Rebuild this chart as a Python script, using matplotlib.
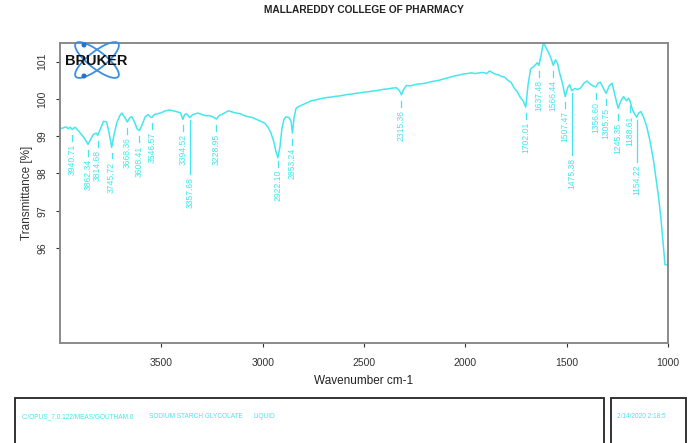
import matplotlib
matplotlib.use('Agg')
import matplotlib.pyplot as plt
from matplotlib.patches import Ellipse, Rectangle, Circle
import numpy as np

plt.rcParams['font.family'] = ['Liberation Sans', 'DejaVu Sans']

CYAN = '#46e6ee'

# spectrum (wavenumber cm-1, transmittance %)
wavenumber = [
    4000, 3985, 3970, 3960, 3950, 3940, 3925, 3910, 3895, 3880, 3862, 3850,
    3835, 3820, 3814, 3800, 3785, 3770, 3760, 3745, 3735, 3720, 3705, 3695,
    3680, 3668, 3655, 3645, 3630, 3620, 3608, 3595, 3580, 3565, 3555, 3546,
    3535, 3520, 3500, 3480, 3460, 3440, 3420, 3405, 3394, 3385, 3375, 3360,
    3345, 3320, 3300, 3280, 3260, 3240, 3228, 3215, 3195, 3170, 3150, 3130,
    3110, 3090, 3070, 3050, 3030, 3010, 2990, 2975, 2960, 2945, 2935, 2925,
    2915, 2905, 2895, 2885, 2870, 2860, 2853, 2845, 2835, 2820, 2800, 2780,
    2760, 2740, 2720, 2700, 2680, 2660, 2640, 2620, 2600, 2580, 2560, 2540,
    2520, 2500, 2480, 2460, 2440, 2420, 2400, 2380, 2360, 2340, 2325, 2315,
    2305, 2290, 2270, 2250, 2230, 2210, 2190, 2170, 2150, 2130, 2110, 2090,
    2070, 2050, 2030, 2010, 1990, 1970, 1950, 1930, 1910, 1895, 1880, 1865,
    1850, 1835, 1820, 1805, 1790, 1775, 1760, 1745, 1730, 1715, 1702, 1690,
    1678, 1660, 1645, 1637, 1625, 1615, 1600, 1590, 1578, 1566, 1555, 1545,
    1535, 1520, 1507, 1495, 1485, 1475, 1460, 1445, 1430, 1415, 1400, 1385,
    1370, 1356, 1345, 1334, 1320, 1305, 1290, 1276, 1262, 1246, 1232, 1219,
    1205, 1195, 1188, 1175, 1165, 1155, 1145, 1133, 1120, 1105, 1090, 1072,
    1060, 1047, 1035, 1025, 1015, 1000,
]
transmittance = [
    99.20, 99.22, 99.25, 99.20, 99.24, 99.18, 99.24, 99.15, 99.05, 98.95, 98.78, 98.90,
    99.05, 99.08, 99.02, 99.20, 99.40, 99.38, 99.15, 98.70, 99.00, 99.35, 99.55, 99.62,
    99.50, 99.38, 99.50, 99.52, 99.35, 99.20, 99.15, 99.30, 99.52, 99.58, 99.52, 99.50,
    99.58, 99.60, 99.63, 99.68, 99.70, 99.68, 99.65, 99.62, 99.45, 99.58, 99.60, 99.50,
    99.58, 99.62, 99.58, 99.55, 99.55, 99.50, 99.46, 99.55, 99.60, 99.68, 99.65, 99.62,
    99.60, 99.55, 99.52, 99.50, 99.45, 99.40, 99.35, 99.25, 99.10, 98.85, 98.60, 98.42,
    98.70, 99.20, 99.45, 99.52, 99.50, 99.40, 99.08, 99.50, 99.75, 99.80, 99.85, 99.90,
    99.95, 99.97, 100.00, 100.02, 100.04, 100.05, 100.07, 100.08, 100.10, 100.12, 100.13, 100.15,
    100.16, 100.18, 100.19, 100.21, 100.22, 100.24, 100.26, 100.27, 100.29, 100.30, 100.22, 100.11,
    100.25, 100.36, 100.35, 100.38, 100.40, 100.41, 100.43, 100.46, 100.48, 100.50, 100.53, 100.56,
    100.59, 100.62, 100.64, 100.67, 100.68, 100.70, 100.68, 100.70, 100.71, 100.68, 100.75, 100.70,
    100.66, 100.64, 100.60, 100.58, 100.50, 100.45, 100.30, 100.20, 100.05, 99.95, 99.78, 100.40,
    100.80, 100.88, 100.97, 100.90, 101.20, 101.52, 101.35, 101.25, 101.10, 100.90, 101.05, 100.95,
    100.70, 100.40, 100.06, 100.30, 100.38, 100.22, 100.28, 100.25, 100.30, 100.42, 100.48, 100.40,
    100.35, 100.32, 100.42, 100.45, 100.30, 100.15, 100.35, 100.42, 100.10, 99.75, 99.95, 100.06,
    99.95, 100.02, 99.95, 99.70, 99.60, 99.51, 99.62, 99.66, 99.50, 99.26, 98.90, 98.37,
    97.90, 97.38, 96.80, 96.20, 95.55, 95.55,
]

# peak labels and the extra length of the long leader lines
peaks = [3940.71, 3862.34, 3814.68, 3745.72, 3668.36, 3608.41, 3546.57, 3394.52,
         3357.68, 3228.95, 2922.10, 2853.24, 2315.36, 1702.01, 1637.48, 1566.44,
         1507.47, 1475.38, 1356.60, 1305.75, 1245.35, 1188.61, 1154.22]
drops = [0, 0, 0, 0, 0, 0, 0, 0,
         1.22, 0, 0, 0, 0, 0, 0, 0,
         0, 1.40, 0, 0, 0, 0, 0.88]

xticks = [3500, 3000, 2500, 2000, 1500, 1000]
yticks = [96, 97, 98, 99, 100, 101]

fig = plt.figure(figsize=(6.96, 4.43), dpi=100)
ax = fig.add_axes([60 / 696, 1 - 343 / 443, 608 / 696, 300 / 443])

ax.plot(wavenumber, transmittance, color=CYAN, lw=1.1)

wn_inc = np.array(wavenumber[::-1], dtype=float)
t_inc = np.array(transmittance[::-1], dtype=float)
for p, d in zip(peaks, drops):
    t = np.interp(p, wn_inc, t_inc)
    if d > 0:
        ax.plot([p, p], [t - 0.08, t - 0.32 - d], color=CYAN, lw=0.9)
    else:
        ax.plot([p, p], [t - 0.16, t - 0.32], color=CYAN, lw=0.9)
    ax.text(p, t - 0.40 - d, '%.2f' % p, rotation=90, ha='center', va='top',
            fontsize=6.2, color=CYAN)

ax.set_xlim(4000, 1000)
ax.set_ylim(93.45, 101.5)
ax.set_xticks(xticks)
ax.set_yticks(yticks)
ax.set_yticklabels([str(v) for v in yticks], rotation=90, va='center')
ax.tick_params(axis='both', labelsize=7.5, colors='#333333', length=3,
               width=0.8, direction='out')
ax.tick_params(axis='x', pad=8)
ax.tick_params(axis='y', pad=6)
for s in ax.spines.values():
    s.set_color('#8a8a8a')
    s.set_linewidth(1.4)
ax.set_xlabel('Wavenumber cm-1', fontsize=8.5, color='#222222', labelpad=5)
ax.set_ylabel('Transmittance [%]', fontsize=8.5, color='#333333', labelpad=3)

fig.text(364 / 696, 1 - 10 / 443, 'MALLAREDDY COLLEGE OF PHARMACY', ha='center',
         va='center', fontsize=7.3, fontweight='bold', color='#222222')

# Bruker logo
lax = fig.add_axes([55 / 696, 1 - 82 / 443, 85 / 696, 42 / 443])
lax.set_xlim(55, 140)
lax.set_ylim(82, 40)
lax.set_aspect('equal')
lax.axis('off')
for ang in (38, -38):
    lax.add_patch(Ellipse((97, 60), 54, 17, angle=ang, fill=False,
                          ec='#3a8fe0', lw=1.3))
for cy in (45, 76):
    lax.add_patch(Circle((84, cy), 1.8, color='#2a70d0'))
lax.text(96, 61, 'BRUKER', ha='center', va='center', fontsize=10.5,
         fontweight='heavy', color='#111111')

# footer boxes
fig.add_artist(Rectangle((15 / 696, -0.05), 589 / 696, 0.05 + 1 - 398 / 443,
                         transform=fig.transFigure, fill=False, ec='#333333', lw=1.4))
fig.add_artist(Rectangle((611 / 696, -0.05), 75 / 696, 0.05 + 1 - 398 / 443,
                         transform=fig.transFigure, fill=False, ec='#333333', lw=1.4))
fy = 1 - 417 / 443
fig.text(22 / 696, fy, 'C:/OPUS_7.0.122/MEAS/GOUTHAM.0', fontsize=4.7, color=CYAN, va='center')
fig.text(149 / 696, fy, 'SODIUM STARCH GLYCOLATE', fontsize=4.7, color=CYAN, va='center')
fig.text(253 / 696, fy, 'LIQUID', fontsize=4.7, color=CYAN, va='center')
fig.text(617 / 696, fy, '2/14/2020 2:18:5', fontsize=4.7, color=CYAN, va='center')

fig.savefig('out.png', dpi=100)
